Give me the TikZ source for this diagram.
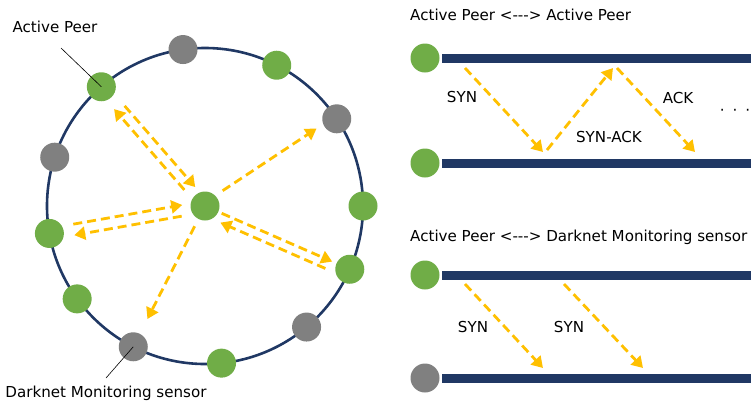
\documentclass[tikz,border=0pt]{standalone}
\usepackage{fontspec}
\setmainfont{DejaVu Sans}[Ligatures=TeXOff]
\usepackage{tikz}
\usetikzlibrary{arrows.meta,calc}

\definecolor{peergreen}{HTML}{70AD47}
\definecolor{sensorgray}{HTML}{808080}
\definecolor{navy}{HTML}{203864}
\definecolor{amber}{HTML}{FFC000}

\tikzset{
  peer/.style={circle, fill=peergreen, minimum size=29pt, inner sep=0pt},
  sensor/.style={circle, fill=sensorgray, minimum size=29pt, inner sep=0pt},
  flow/.style={draw=amber, line width=2.8pt, dash pattern=on 9pt off 5pt,
    -{Triangle[length=11pt,width=13pt]}},
  bar/.style={draw=navy, line width=9pt, shorten <=2.5pt},
  leader/.style={draw=black, line width=0.6pt},
  lbl/.style={inner sep=0pt, font=\fontsize{15.1}{17}\selectfont}
}

\begin{document}
\begin{tikzpicture}[x=1pt, y=-1pt]
\useasboundingbox (0,0) rectangle (751,405);

% ring of peers
\node[peer] (hub) at (205,206) {};
\draw[navy, line width=2.6pt] (hub) circle[radius=158pt];
\foreach \n/\a/\kind in {1/98/sensor, 2/63/peer, 3/33.5/sensor, 4/0/peer,
    5/-23.6/peer, 6/-50/sensor, 7/-84/peer, 8/-117/sensor,
    9/-144/peer, 10/-170/peer, 11/162/sensor, 12/131/peer}
  \node[\kind] (p\n) at ($(hub)+(\a:158pt)$) {};

% traffic from the hub
\draw[flow, shorten <=11pt, shorten >=10.5pt, transform canvas={xshift=-3.8pt, yshift=-3.3pt}] (hub) -- (p12);
\draw[flow, shorten <=15pt, shorten >=6pt, transform canvas={xshift=3.8pt, yshift=3.3pt}] (p12) -- (hub);
\draw[flow, shorten <=8.5pt, shorten >=7.5pt, transform canvas={xshift=-1.7pt, yshift=2.5pt}] (hub) -- (p3);
\draw[flow, shorten <=10.5pt, shorten >=7.5pt, transform canvas={xshift=-0.9pt, yshift=4.9pt}] (p10) -- (hub);
\draw[flow, shorten <=10pt, shorten >=9.5pt, transform canvas={xshift=1pt, yshift=-5.9pt}] (hub) -- (p10);
\draw[flow, shorten <=3.5pt, shorten >=4.5pt] (hub) -- (p5);
\draw[flow, shorten <=8pt, shorten >=6pt, transform canvas={xshift=-3.6pt, yshift=-8.3pt}] (p5) -- (hub);
\draw[flow, shorten <=8pt, shorten >=16.5pt] (hub) -- (p8);

% labels
\node[lbl] (peerlabel) at (55,27) {Active Peer};
\coordinate (peertip) at (61,48);
\draw[leader] (peertip) -- (p12.center);
\node[lbl] (sensorlabel) at (106,393) {Darknet Monitoring sensor};
\coordinate (sensortip) at (106,378);
\draw[leader] (sensortip) -- (p8.center);

% handshake between two peers
\node[lbl, anchor=west] (title1) at (410,15) {Active Peer <---> Active Peer};
\node[peer] (a1) at (425,58) {};
\node[peer] (a2) at (425,163) {};
\coordinate (a1end) at (751,58);
\coordinate (a2end) at (751,163);
\draw[bar] (a1) -- (a1end);
\draw[bar] (a2) -- (a2end);
\coordinate (syn1s) at (465,68);
\coordinate (syn1e) at (543,152);
\coordinate (sack1s) at (547,150);
\coordinate (sack1e) at (613,68);
\coordinate (ack1s) at (617,68);
\coordinate (ack1e) at (695,152);
\draw[flow] (syn1s) -- (syn1e);
\draw[flow] (sack1s) -- (sack1e);
\draw[flow] (ack1s) -- (ack1e);
\node[lbl] (synlbl) at (462,97) {SYN};
\node[lbl] (sacklbl) at (609,137) {SYN-ACK};
\node[lbl] (acklbl) at (678,98) {ACK};
\node[lbl] (more) at (735,112) {·\hspace{8pt}·\hspace{8pt}·};

% peer to sensor
\node[lbl, anchor=west] (title2) at (410,237) {Active Peer <---> Darknet Monitoring sensor};
\node[peer] (b1) at (425,275) {};
\node[sensor] (b2) at (425,378) {};
\coordinate (b1end) at (751,275);
\coordinate (b2end) at (751,378);
\draw[bar] (b1) -- (b1end);
\draw[bar] (b2) -- (b2end);
\coordinate (syn2s) at (465,284);
\coordinate (syn2e) at (543,368);
\coordinate (syn3s) at (564,284);
\coordinate (syn3e) at (643,368);
\draw[flow] (syn2s) -- (syn2e);
\draw[flow] (syn3s) -- (syn3e);
\node[lbl] (syn2lbl) at (473,327) {SYN};
\node[lbl] (syn3lbl) at (569,327) {SYN};
\end{tikzpicture}
\end{document}
